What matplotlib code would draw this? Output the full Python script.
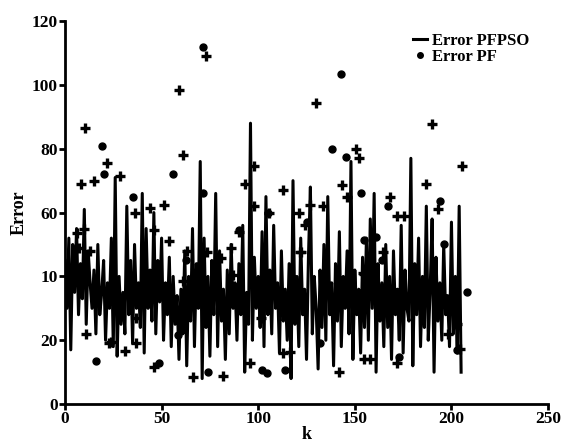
import numpy as np
import matplotlib
matplotlib.use("Agg")
import matplotlib.pyplot as plt

# Error PFPSO, k = 0..205
pfpso_err = [
    45, 30, 52, 17, 50, 35, 55, 28, 44, 33,
    61, 25, 48, 38, 30, 42, 22, 50, 28, 35,
    45, 20, 38, 30, 52, 18, 71, 15, 40, 25,
    35, 22, 62, 28, 45, 19, 50, 30, 38, 24,
    66, 16, 55, 30, 42, 26, 60, 22, 45, 32,
    52, 20, 38, 28, 46, 18, 40, 25, 34, 14,
    36, 22, 48, 12, 40, 26, 55, 18, 44, 30,
    76, 8, 52, 24, 40, 15, 45, 28, 66, 18,
    48, 26, 36, 14, 42, 22, 50, 30, 38, 20,
    44, 28, 56, 10, 35, 25, 88, 20, 46, 30,
    40, 24, 54, 18, 65, 28, 42, 22, 56, 30,
    38, 16, 48, 26, 36, 20, 44, 8, 70, 25,
    40, 18, 52, 28, 36, 14, 46, 68, 22, 40,
    30, 11, 42, 24, 50, 20, 65, 28, 38, 12,
    44, 26, 54, 18, 40, 30, 48, 22, 76, 14,
    42, 28, 36, 16, 46, 24, 52, 20, 58, 30,
    66, 10, 44, 26, 38, 18, 50, 24, 40, 14,
    48, 28, 36, 20, 56, 16, 42, 30, 26, 77,
    12, 44, 28, 52, 18, 40, 24, 62, 20, 36,
    58, 10, 46, 26, 38, 20, 50, 28, 34, 18,
    57, 22, 40, 16, 62, 10,
]
k = np.arange(len(pfpso_err))

# Error PF, drawn as plus signs
pf_plus_k = [10.4, 22, 15, 8.3, 28.5, 36, 44, 51, 59, 61, 73, 93, 98, 98,
             113, 121, 130, 190, 150.6, 152, 205.5, 143.5, 146, 187, 193,
             168, 172, 175.5, 164.5, 154, 127, 133.5, 142, 172, 155, 158,
             204.5, 198, 203, 6, 7, 10, 13, 11, 23, 31, 37, 37, 46, 54, 63,
             61, 66, 82, 90, 86, 73.5, 81, 87, 96, 101.5, 113, 116.5, 121.7,
             124, 120.6, 105.6, 24, 122, 155, 46]
pf_plus_val = [86.5, 75.5, 70, 69, 71.5, 60, 61.5, 62.4, 98.4, 78, 109, 69,
               74.6, 62, 67, 60, 94.4, 87.8, 80, 77, 74.6, 68.6, 65, 69, 61,
               65, 59, 59, 47.6, 41, 62.4, 62, 10, 13, 14, 14, 17.2, 22, 25,
               53.6, 49, 55, 48, 22, 19, 16.6, 19, 27, 54.5, 51, 48, 38.6,
               8.5, 8.8, 54, 49, 47.6, 45.7, 40.4, 13, 27, 16, 16.3, 47.6, 56,
               33, 60, 19.4, 47.6, 40.7, 11.6]

# Error PF, drawn as dots
pf_dot_k = [19, 20, 35, 56, 71.5, 71.5, 105, 125, 90, 143, 138, 145.5, 153,
            194, 167, 155, 161, 164, 196, 134.5, 208, 173, 203, 132, 16,
            48.7, 62.6, 74, 102, 104.5, 114, 58.5]
pf_dot_val = [81, 72, 65, 72, 112, 66, 60, 57, 54.5, 103.4, 80, 77.5, 66,
              63.6, 62, 51.4, 52.4, 45, 50, 39, 35, 14.7, 17, 19, 13.5, 13,
              45, 10, 10.7, 9.8, 10.7, 21.6]

x_ticks = [0, 50, 100, 150, 200, 250]
y_ticks = [0, 20, 40, 60, 80, 100, 120]
y_tick_labels = ["0", "20", "10", "60", "80", "100", "120"]

plt.rcParams["font.family"] = ["Liberation Serif", "DejaVu Serif"]
plt.rcParams["font.weight"] = "bold"

fig = plt.figure(figsize=(5.67, 4.48), dpi=100)
ax = fig.add_axes([0.1146, 0.098, 0.852, 0.855])

ax.plot(k, pfpso_err, color="black", linewidth=2.2, label="Error PFPSO")
ax.plot(pf_plus_k, pf_plus_val, linestyle="none", marker="+", color="black",
        markersize=7, markeredgewidth=2.4)
ax.plot(pf_dot_k, pf_dot_val, linestyle="none", marker="o", color="black",
        markersize=5, label="Error PF")

ax.set_xlim(0, 250)
ax.set_ylim(0, 120)
ax.set_xticks(x_ticks)
ax.set_yticks(y_ticks)
ax.set_yticklabels(y_tick_labels)
ax.spines["top"].set_visible(False)
ax.spines["right"].set_visible(False)
for s in ("left", "bottom"):
    ax.spines[s].set_linewidth(2)
ax.tick_params(direction="out", length=4, width=2, labelsize=12.5, pad=1)
for lab in ax.get_xticklabels() + ax.get_yticklabels():
    lab.set_fontweight("bold")

ax.set_xlabel("k", fontsize=13, fontweight="bold", labelpad=-1)
ax.set_ylabel("Error", fontsize=13, fontweight="bold", labelpad=3)

ax.legend(loc="upper right", bbox_to_anchor=(0.985, 1.0), frameon=False,
          handlelength=0.8, handletextpad=0.3, labelspacing=0.0,
          borderpad=0.2, prop={"weight": "bold", "size": 12},
          markerscale=0.8)

fig.savefig("out.png", dpi=100)
